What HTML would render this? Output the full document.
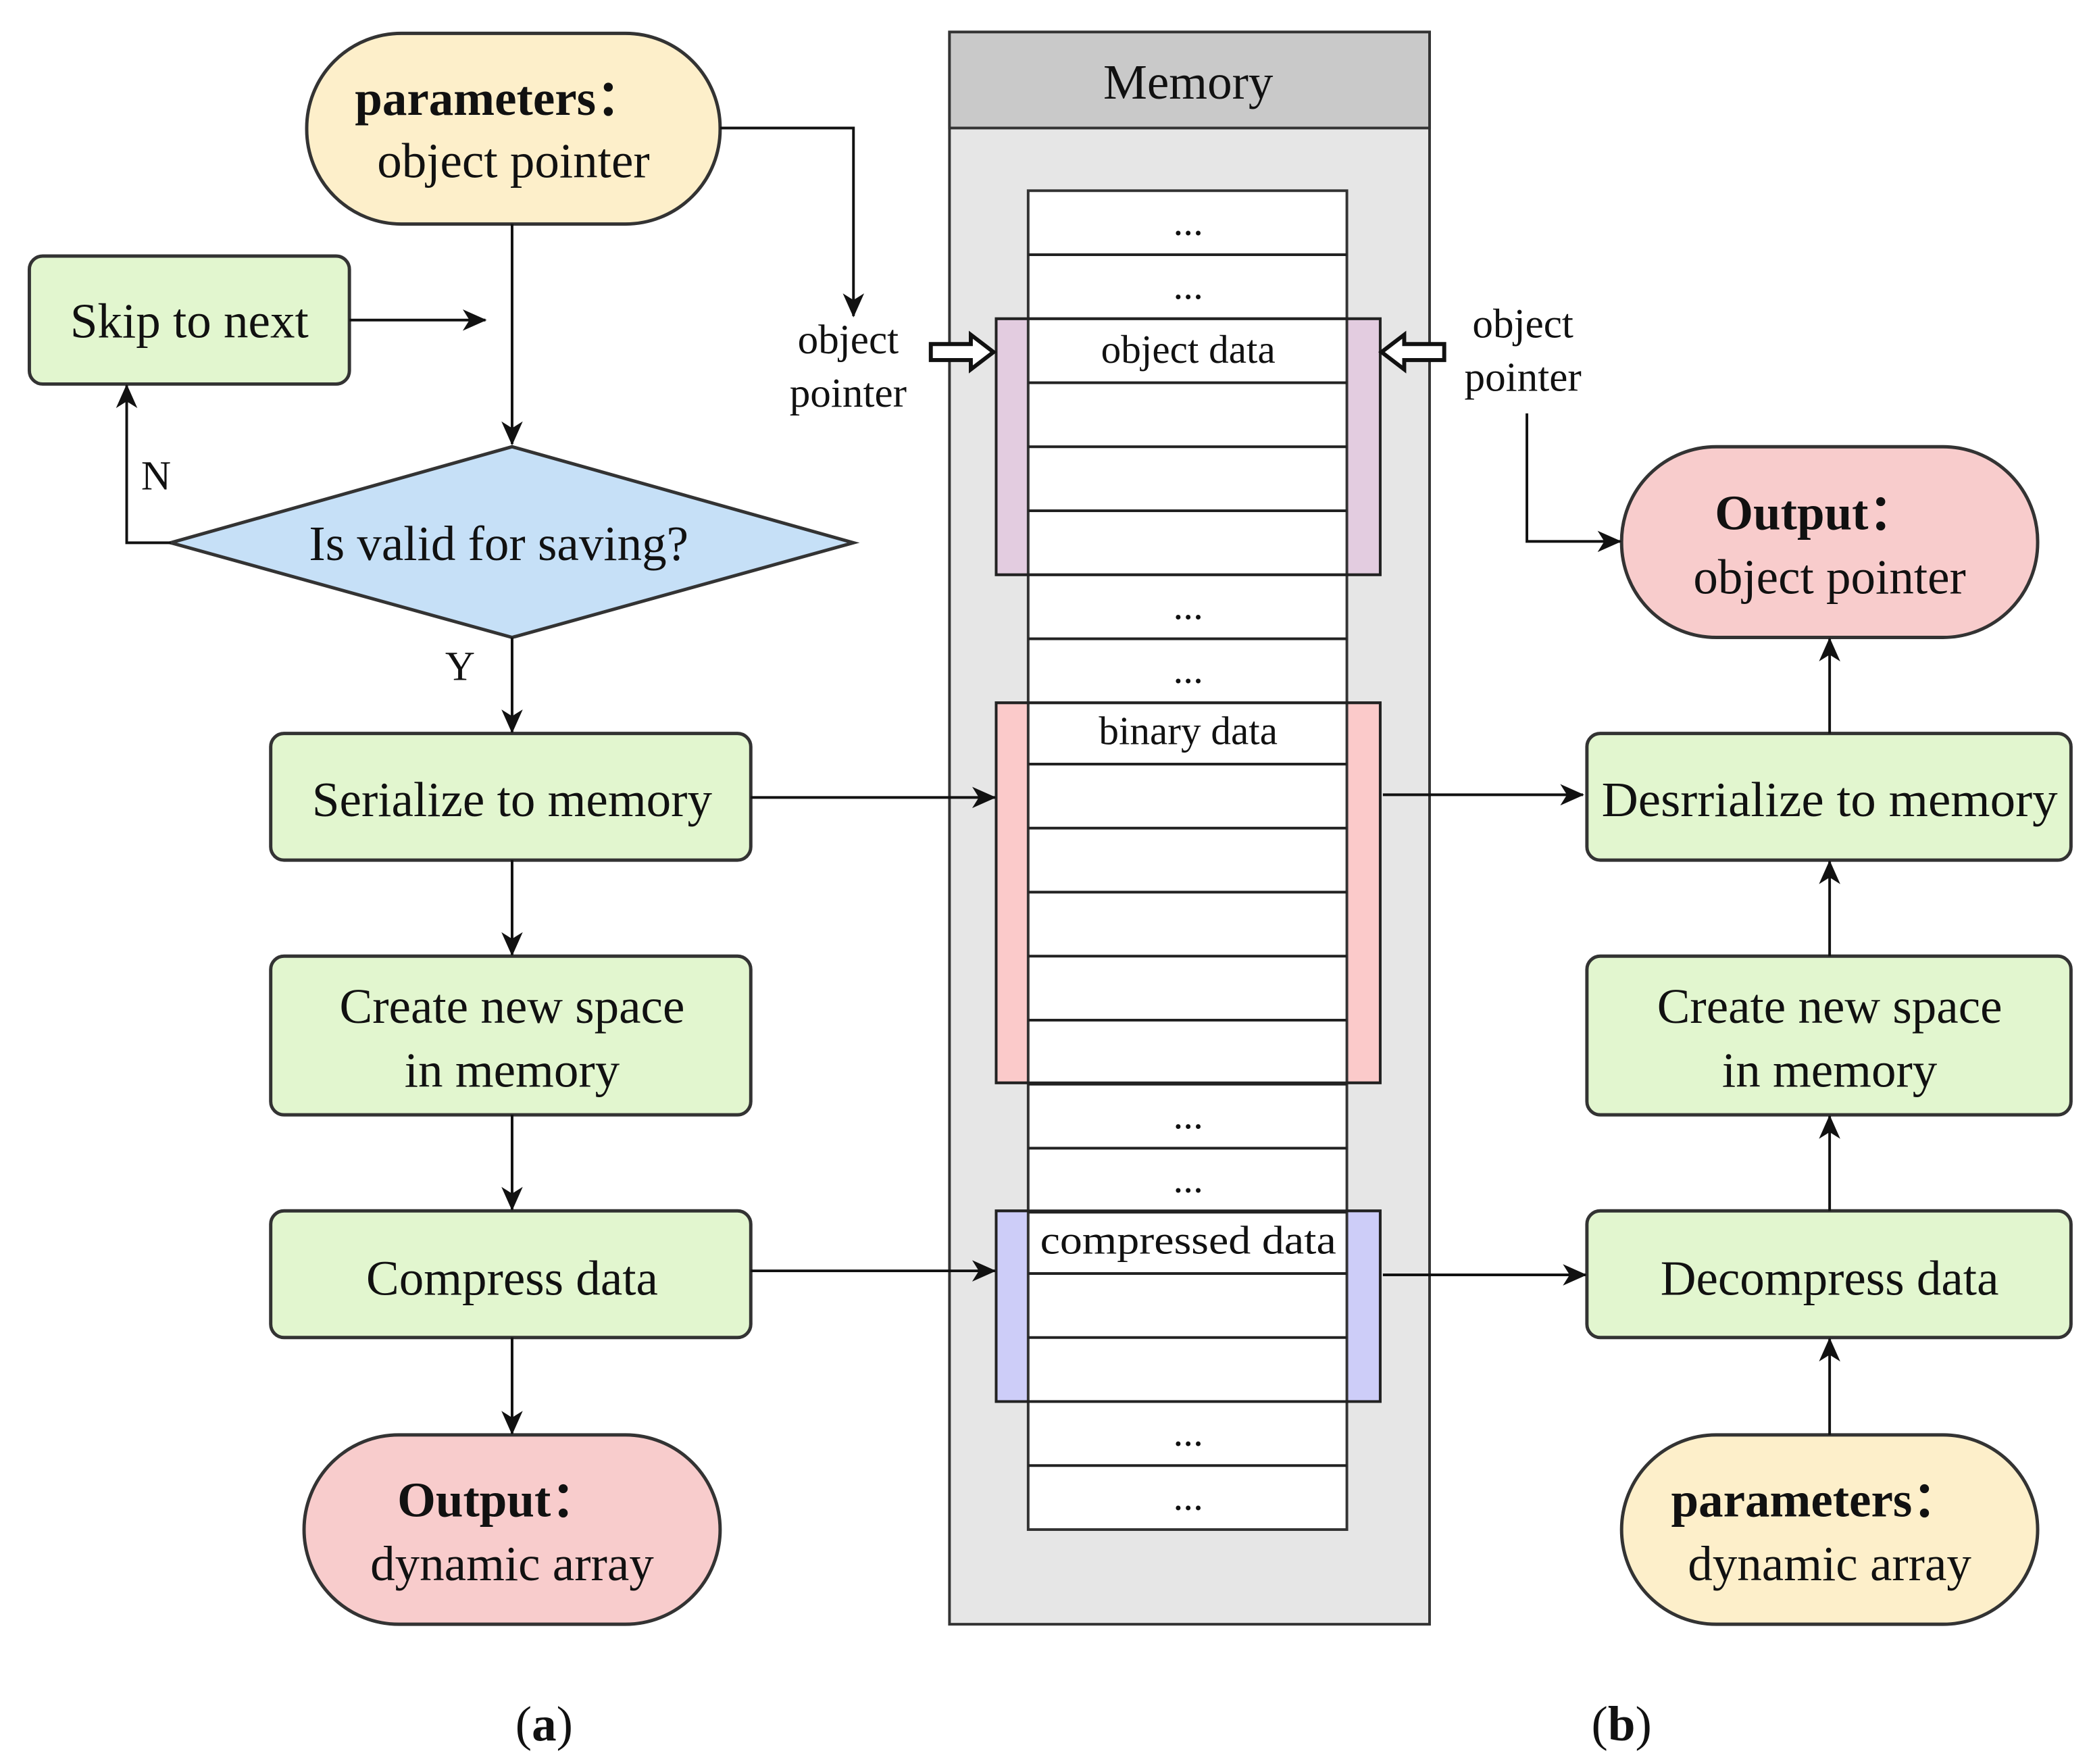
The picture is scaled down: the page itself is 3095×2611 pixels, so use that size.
<!DOCTYPE html>
<html><head><meta charset="utf-8"><style>html,body{margin:0;padding:0;background:#fff}svg{display:block}</style></head>
<body>
<svg width="3095" height="2611" viewBox="0 0 1568 1322.8" xmlns="http://www.w3.org/2000/svg" font-family="'Liberation Serif', serif">
<defs>
<marker id="a" markerWidth="18" markerHeight="16" refX="17" refY="8" orient="auto" markerUnits="userSpaceOnUse">
<path d="M0,0 L18,8 L0,16 L5,8 z" fill="#111"/></marker>
</defs>
<rect width="1568" height="1323" fill="#fff"/>
<g stroke="#333" stroke-width="2">
<rect x="712" y="24" width="360" height="1194" fill="#e6e6e6"/>
<rect x="712" y="24" width="360" height="72" fill="#c9c9c9"/>
<rect x="747" y="239" width="288" height="192" fill="#e3cce0"/>
<rect x="747" y="527" width="288" height="285" fill="#fbcaca"/>
<rect x="747" y="908" width="288" height="143" fill="#cdcdf8"/>
<rect x="771" y="143" width="239" height="1004" fill="#fff"/>
</g>
<g stroke="#222" stroke-width="2">
<line x1="771" y1="191" x2="1010" y2="191"/><line x1="771" y1="239" x2="1010" y2="239"/>
<line x1="771" y1="287" x2="1010" y2="287"/><line x1="771" y1="335" x2="1010" y2="335"/>
<line x1="771" y1="383" x2="1010" y2="383"/><line x1="771" y1="431" x2="1010" y2="431"/>
<line x1="771" y1="479" x2="1010" y2="479"/><line x1="771" y1="527" x2="1010" y2="527"/>
<line x1="771" y1="573" x2="1010" y2="573"/><line x1="771" y1="621" x2="1010" y2="621"/>
<line x1="771" y1="669" x2="1010" y2="669"/><line x1="771" y1="717" x2="1010" y2="717"/>
<line x1="771" y1="765" x2="1010" y2="765"/><line x1="771" y1="813" x2="1010" y2="813"/>
<line x1="771" y1="861" x2="1010" y2="861"/><line x1="771" y1="909" x2="1010" y2="909"/>
<line x1="771" y1="955" x2="1010" y2="955"/><line x1="771" y1="1003" x2="1010" y2="1003"/>
<line x1="771" y1="1051" x2="1010" y2="1051"/><line x1="771" y1="1099" x2="1010" y2="1099"/>
<rect x="747" y="239" width="288" height="192" fill="none"/>
<rect x="747" y="527" width="288" height="285" fill="none"/>
<rect x="747" y="908" width="288" height="143" fill="none"/>
</g>
<g font-size="30" text-anchor="middle" fill="#111">
<text x="891" y="176">...</text><text x="891" y="224">...</text>
<text x="891" y="272">object data</text>
<text x="891" y="464">...</text><text x="891" y="512">...</text>
<text x="891" y="558">binary data</text>
<text x="891" y="846">...</text><text x="891" y="894">...</text>
<text x="891" y="940" textLength="222" lengthAdjust="spacingAndGlyphs">compressed data</text>
<text x="891" y="1084">...</text><text x="891" y="1132">...</text>
</g>
<text x="891" y="74" font-size="37" text-anchor="middle" fill="#111">Memory</text>
<g stroke="#333" stroke-width="2.5">
<rect x="230" y="25" width="310" height="143" rx="71" fill="#fdefca"/>
<rect x="22" y="192" width="240" height="96" rx="10" fill="#e2f6cf"/>
<polygon points="128,407 384,335 640,407 384,478" fill="#c6e0f7"/>
<rect x="203" y="550" width="360" height="95" rx="10" fill="#e2f6cf"/>
<rect x="203" y="717" width="360" height="119" rx="10" fill="#e2f6cf"/>
<rect x="203" y="908" width="360" height="95" rx="10" fill="#e2f6cf"/>
<rect x="228" y="1076" width="312" height="142" rx="71" fill="#f8cccc"/>
<rect x="1216" y="335" width="312" height="143" rx="71" fill="#f8cccc"/>
<rect x="1190" y="550" width="363" height="95" rx="10" fill="#e2f6cf"/>
<rect x="1190" y="717" width="363" height="119" rx="10" fill="#e2f6cf"/>
<rect x="1190" y="908" width="363" height="95" rx="10" fill="#e2f6cf"/>
<rect x="1216" y="1076" width="312" height="142" rx="71" fill="#fdefca"/>
</g>
<g font-size="37" text-anchor="middle" fill="#111">
<text x="375" y="86" font-weight="bold">parameters：</text>
<text x="385" y="133">object pointer</text>
<text x="142" y="253">Skip to next</text>
<text x="374" y="420">Is valid for saving?</text>
<text x="384" y="612">Serialize to memory</text>
<text x="384" y="767">Create new space</text>
<text x="384" y="815">in memory</text>
<text x="384" y="971">Compress data</text>
<text x="374" y="1137" font-weight="bold">Output：</text>
<text x="384" y="1185">dynamic array</text>
<text x="1362" y="397" font-weight="bold">Output：</text>
<text x="1372" y="445">object pointer</text>
<text x="1372" y="612" textLength="342" lengthAdjust="spacingAndGlyphs">Desrrialize to memory</text>
<text x="1372" y="767">Create new space</text>
<text x="1372" y="815">in memory</text>
<text x="1372" y="971">Decompress data</text>
<text x="1362" y="1137" font-weight="bold">parameters：</text>
<text x="1372" y="1185">dynamic array</text>
<text x="408" y="1305">(<tspan font-weight="bold">a</tspan>)</text>
<text x="1216" y="1305">(<tspan font-weight="bold">b</tspan>)</text>
</g>
<g font-size="31" text-anchor="middle" fill="#111">
<text x="636" y="265">object</text><text x="636" y="305">pointer</text>
<text x="1142" y="253">object</text><text x="1142" y="293">pointer</text>
<text x="117" y="367">N</text><text x="345" y="510">Y</text>
</g>
<g stroke="#111" stroke-width="2" fill="none">
<polyline points="540,96 640,96 640,237" marker-end="url(#a)"/>
<line x1="384" y1="168" x2="384" y2="333" marker-end="url(#a)"/>
<line x1="262" y1="240" x2="364" y2="240" marker-end="url(#a)"/>
<polyline points="128,407 95,407 95,289" marker-end="url(#a)"/>
<line x1="384" y1="478" x2="384" y2="549" marker-end="url(#a)"/>
<line x1="384" y1="645" x2="384" y2="716" marker-end="url(#a)"/>
<line x1="384" y1="836" x2="384" y2="907" marker-end="url(#a)"/>
<line x1="384" y1="1003" x2="384" y2="1075" marker-end="url(#a)"/>
<line x1="563" y1="598" x2="746" y2="598" marker-end="url(#a)"/>
<line x1="563" y1="953" x2="746" y2="953" marker-end="url(#a)"/>
<line x1="1037" y1="596" x2="1187" y2="596" marker-end="url(#a)"/>
<line x1="1037" y1="956" x2="1189" y2="956" marker-end="url(#a)"/>
<polyline points="1145,310 1145,406 1215,406" marker-end="url(#a)"/>
<line x1="1372" y1="550" x2="1372" y2="479" marker-end="url(#a)"/>
<line x1="1372" y1="717" x2="1372" y2="646" marker-end="url(#a)"/>
<line x1="1372" y1="908" x2="1372" y2="837" marker-end="url(#a)"/>
<line x1="1372" y1="1076" x2="1372" y2="1004" marker-end="url(#a)"/>
</g>
<g stroke="#111" stroke-width="3" fill="#fff">
<polygon points="698,258 728,258 728,251 745,264 728,277 728,270 698,270"/>
<polygon points="1083,258 1053,258 1053,251 1036,264 1053,277 1053,270 1083,270"/>
</g>
</svg>
</body></html>
